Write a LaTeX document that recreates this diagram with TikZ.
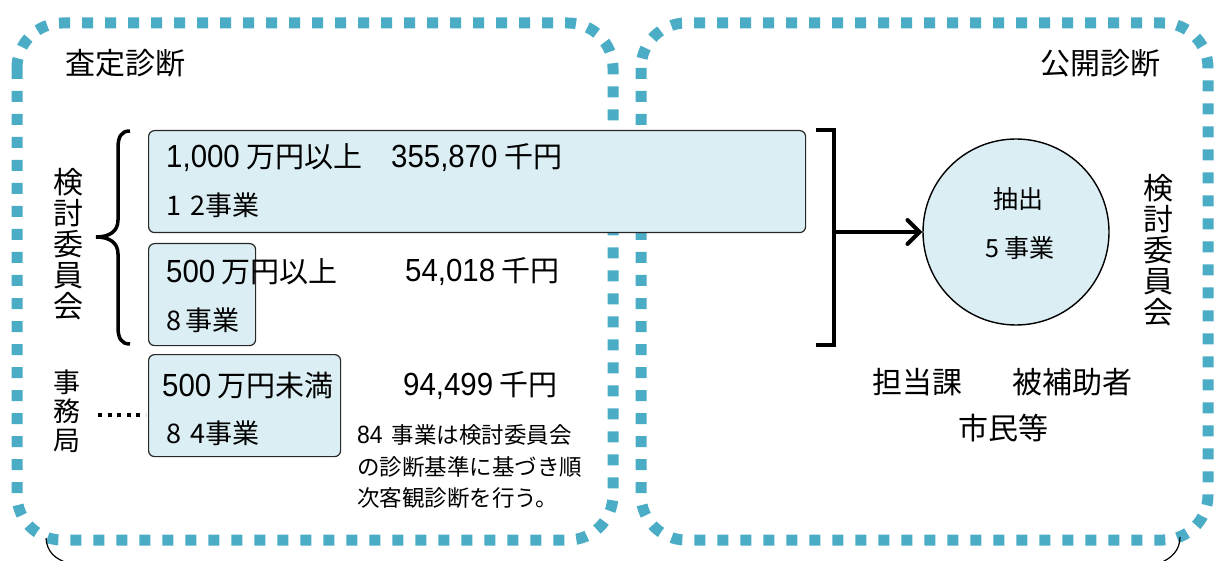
\documentclass[tikz,border=0pt]{standalone}
\usepackage{fontspec}
\setmainfont{Noto Sans CJK JP}
\newfontfamily\numf[FakeStretch=0.92]{Liberation Sans}
\usetikzlibrary{arrows.meta}
\definecolor{dotc}{RGB}{75,172,198}
\definecolor{boxfill}{RGB}{219,238,243}
\definecolor{boxline}{RGB}{40,40,40}
\newcommand\NN[1]{{\numf\fontsize{32}{32}\selectfont #1}}
\tikzset{
  group/.style={draw=dotc, line width=11pt, dash pattern=on 11pt off 12pt, rounded corners=45pt},
  rbox/.style={draw=boxline, fill=boxfill, line width=1.2pt, rounded corners=6pt, anchor=north west, inner sep=0pt},
  txt/.style={inner sep=0pt, font=\fontsize{29}{30}\selectfont},
  small/.style={inner sep=0pt, font=\fontsize{27}{30}\selectfont},
  note/.style={inner sep=0pt, anchor=west, font=\fontsize{22.5}{30}\selectfont},
  big/.style={inner sep=0pt, font=\fontsize{30}{31}\selectfont},
  vert/.style={inner sep=0pt, align=center, font=\fontsize{30}{31}\selectfont},
}
\begin{document}
\begin{tikzpicture}[x=1pt,y=-1pt]
\useasboundingbox (0,0) rectangle (1215,561);
% group outlines
\draw[group] (17,23) rectangle (613,540);
\draw[group] (641,23) rectangle (1208,540);
% bottom thin arcs
\coordinate (la) at (46,538);
\coordinate (lb) at (68,563);
\coordinate (ra) at (1180,537);
\coordinate (rb) at (1160,563);
\draw[line width=1.2pt] (la) .. controls (47,552) and (55,559) .. (lb);
\draw[line width=1.2pt] (ra) .. controls (1180,550) and (1172,558) .. (rb);
% titles
\node[big] (t1) at (125,63) {査定診断};
\node[big] (t2) at (1100,63) {公開診断};
% boxes
\node[rbox, minimum width=657pt, minimum height=102pt] (box1) at (148,130) {};
\node[rbox, minimum width=107pt, minimum height=102pt] (box2) at (148,243) {};
\node[rbox, minimum width=192pt, minimum height=102pt] (box3) at (148,354) {};
% box texts
\node[txt, anchor=west] (b1a) at (166,158) {\NN{1,000} 万円以上};
\node[txt, anchor=west] (b1b) at (391,158) {\NN{355,870} 千円};
\node[small, anchor=west] (b1c) at (166,205) {1\,\,2事業};
\node[txt, anchor=west] (b2a) at (166,272) {\NN{500} 万円以上};
\node[txt, anchor=west] (b2b) at (405,272) {\NN{54,018} 千円};
\node[small, anchor=west] (b2c) at (166,320) {8\,事業};
\node[txt, anchor=west] (b3a) at (162,386) {\NN{500} 万円未満};
\node[txt, anchor=west] (b3b) at (403,386) {\NN{94,499} 千円};
\node[small, anchor=west] (b3c) at (166,433) {8\,\,4事業};
% note
\node[note] (n1) at (357,435) {{\numf\fontsize{25}{30}\selectfont 84}\, 事業は検討委員会};
\node[note] (n2) at (357,467) {の診断基準に基づき順};
\node[note] (n3) at (357,498) {次客観診断を行う。};
% left side labels
\node[vert] (v1) at (68,244) {検\\討\\委\\員\\会};
\node[vert, font=\fontsize{27}{29}\selectfont] (v2) at (67,411) {事\\務\\局};
% brace
\draw[line width=3.5pt] (130,131) .. controls (121,131) and (118,137) .. (118,148) -- (118,220) .. controls (118,231) and (110,237) .. (96,237) .. controls (110,237) and (118,243) .. (118,254) -- (118,327) .. controls (118,338) and (121,344) .. (130,344);
% dotted connector
\coordinate (d1) at (98,415);
\coordinate (d2) at (146,415);
\draw[line width=4pt, dash pattern=on 4pt off 5.6pt] (d1) -- (d2);
% right bracket and arrow
\coordinate (bt) at (816,130);
\coordinate (bb) at (816,345);
\coordinate (bm) at (834,232);
\draw[line width=4.5pt] (bt) -- (834,130) -- (834,345) -- (bb);
\node[circle, draw=black, fill=boxfill, line width=1.4pt, minimum size=186pt, inner sep=0pt] (c) at (1016,232) {};
\draw[line width=4pt, line cap=round, -{Straight Barb[length=12pt, width=24pt, line cap=round]}] (bm) -- (c.west);
\node[small, font=\fontsize{25}{30}\selectfont] (c1) at (1018,199) {抽出};
\node[small, font=\fontsize{25}{30}\selectfont] (c2) at (1020,248) {5\,事業};
% right labels
\node[vert] (v3) at (1158,250) {検\\討\\委\\員\\会};
\node[big] (r1) at (917,382) {担当課};
\node[big] (r2) at (1072,382) {被補助者};
\node[big] (r3) at (1003,428) {市民等};
\end{tikzpicture}
\end{document}
